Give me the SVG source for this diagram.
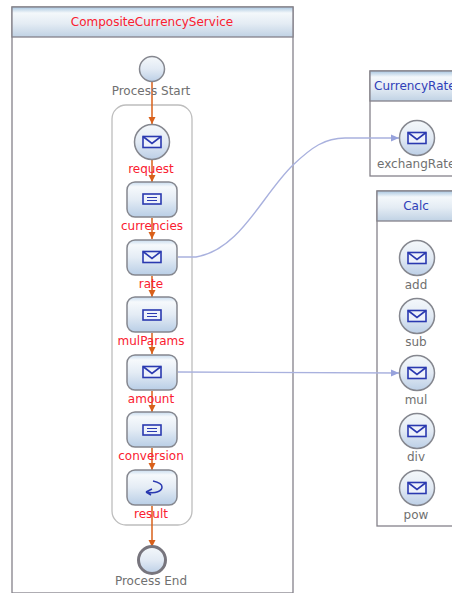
<svg xmlns="http://www.w3.org/2000/svg" width="452" height="593" viewBox="0 0 452 593">
<defs>
<linearGradient id="hdr" x1="0" y1="0" x2="0" y2="1"><stop offset="0" stop-color="#a9c6e0"/><stop offset=".2" stop-color="#f4f8fb"/><stop offset=".55" stop-color="#e4ecf4"/><stop offset="1" stop-color="#c0d2e4"/></linearGradient>
<linearGradient id="nd" x1="0" y1="0" x2="0" y2="1"><stop offset="0" stop-color="#c8dcef"/><stop offset=".14" stop-color="#f6f9fc"/><stop offset=".5" stop-color="#e4ecf5"/><stop offset="1" stop-color="#b9cee6"/></linearGradient>
<linearGradient id="cc" x1="0" y1="0" x2="0" y2="1"><stop offset="0" stop-color="#f4f8fb"/><stop offset=".5" stop-color="#e2eaf4"/><stop offset="1" stop-color="#bccfe6"/></linearGradient>
<marker id="ar" markerUnits="userSpaceOnUse" markerWidth="8" markerHeight="8" refX="7" refY="4" orient="auto"><path d="M0 .5L7 4L0 7.500Z" fill="#d9601a"/></marker>
<marker id="ab" markerUnits="userSpaceOnUse" markerWidth="9" markerHeight="8" refX="8" refY="4" orient="auto"><path d="M0 .5L8 4L0 7.500Z" fill="#97a2dc"/></marker>
<g id="msg"><rect x="-9" y="-5.500" width="18" height="11" fill="#eef2fb" stroke="#2a39b0" stroke-width="1.600"/><path d="M-9-5.500L0 1.500L9-5.500" fill="none" stroke="#2a39b0" stroke-width="1.600"/></g>
<g id="doc"><rect x="-9" y="-5" width="18" height="10" fill="#eef2fb" stroke="#2a39b0" stroke-width="1.600"/><path d="M-5-1.500H5M-5 1.500H5" stroke="#2a39b0" stroke-width="1.200"/></g>
</defs>
<style>
text{font-family:"DejaVu Sans",sans-serif;font-size:12px;text-anchor:middle}
.g{fill:#707070}.r{fill:#fa2030}.b{fill:#3040b8}
.pool{fill:#fff;stroke:#85828a;stroke-width:1.300}
.hd{fill:url(#hdr);stroke:#85828a;stroke-width:1.300}
.c{fill:url(#cc);stroke:#85878f;stroke-width:1.500}
.n{fill:url(#nd);stroke:#85878f;stroke-width:1.500}
.flow{fill:none;stroke:#d9601a;stroke-width:1.500;marker-end:url(#ar)}
.link{fill:none;stroke:#a9b1de;stroke-width:1.400;marker-end:url(#ab)}
</style>
<rect width="452" height="593" fill="#fff"/>
<g id="pool-composite"><rect class="pool" x="12" y="7" width="281" height="586"/><rect class="hd" x="12" y="7" width="281" height="30"/><text class="r" x="152" y="26">CompositeCurrencyService</text></g>
<g id="pool-rate"><rect class="pool" x="370" y="71" width="90" height="105"/><rect class="hd" x="370" y="71" width="90" height="30"/><text class="b" x="374" y="90" style="text-anchor:start">CurrencyRate</text></g>
<g id="pool-calc"><rect class="pool" x="377" y="191" width="90" height="335"/><rect class="hd" x="377" y="191" width="90" height="30"/><text class="b" x="416" y="210">Calc</text></g>
<g id="scope"><rect x="112" y="105" width="80" height="420" rx="14" fill="#fff" stroke="#bdbdbd" stroke-width="1.300"/></g>
<g id="connectors">
<path class="flow" d="M152 82V124"/><path class="flow" d="M152 160V182"/><path class="flow" d="M152 218V239"/><path class="flow" d="M152 276V297"/><path class="flow" d="M152 333V354"/><path class="flow" d="M152 391V412"/><path class="flow" d="M152 448V470"/><path class="flow" d="M152 506V547"/>
<path class="link" d="M178 257H196C240 250 262 195 293 165C312 147 325 138 345 138H399"/><path class="link" d="M178 372L399 373"/>
</g>
<g id="start"><circle class="c" cx="152" cy="69" r="12.500"/><text class="g" x="151" y="95">Process Start</text></g>
<g id="request"><circle class="c" cx="152" cy="142" r="17.500"/><use href="#msg" x="152" y="142"/><text class="r" x="151" y="173">request</text></g>
<g id="currencies"><rect class="n" x="127" y="182" width="50" height="35" rx="8"/><use href="#doc" x="152" y="199"/><text class="r" x="152" y="230">currencies</text></g>
<g id="rate"><rect class="n" x="127" y="240" width="50" height="35" rx="8"/><use href="#msg" x="152" y="257"/><text class="r" x="151" y="288">rate</text></g>
<g id="mulParams"><rect class="n" x="127" y="297" width="50" height="35" rx="8"/><use href="#doc" x="152" y="315"/><text class="r" x="151" y="345">mulParams</text></g>
<g id="amount"><rect class="n" x="127" y="355" width="50" height="35" rx="8"/><use href="#msg" x="152" y="372"/><text class="r" x="151" y="403">amount</text></g>
<g id="conversion"><rect class="n" x="127" y="412" width="50" height="35" rx="8"/><use href="#doc" x="152" y="430"/><text class="r" x="151" y="460">conversion</text></g>
<g id="result"><rect class="n" x="127" y="470" width="50" height="35" rx="8"/><path d="M146 492C156 494 162 491 162 487C162 484 158 482 153 481M146 492L152 489M146 492L151 495" fill="none" stroke="#2a39b0" stroke-width="1.500"/><text class="r" x="151" y="518">result</text></g>
<g id="end"><circle cx="152" cy="560" r="13.500" fill="url(#cc)" stroke="#77757d" stroke-width="3"/><text class="g" x="151" y="585">Process End</text></g>
<g id="exchangRate"><circle class="c" cx="417" cy="138" r="17.500"/><use href="#msg" x="417" y="138"/><text class="g" x="377" y="168" style="text-anchor:start">exchangRate</text></g>
<g id="add"><circle class="c" cx="417" cy="258" r="17.500"/><use href="#msg" x="417" y="258"/><text class="g" x="416" y="289">add</text></g>
<g id="sub"><circle class="c" cx="417" cy="316" r="17.500"/><use href="#msg" x="417" y="316"/><text class="g" x="416" y="346">sub</text></g>
<g id="mul"><circle class="c" cx="417" cy="373" r="17.500"/><use href="#msg" x="417" y="373"/><text class="g" x="416" y="404">mul</text></g>
<g id="div"><circle class="c" cx="417" cy="431" r="17.500"/><use href="#msg" x="417" y="431"/><text class="g" x="416" y="461">div</text></g>
<g id="pow"><circle class="c" cx="417" cy="488" r="17.500"/><use href="#msg" x="417" y="488"/><text class="g" x="416" y="519">pow</text></g>
</svg>
